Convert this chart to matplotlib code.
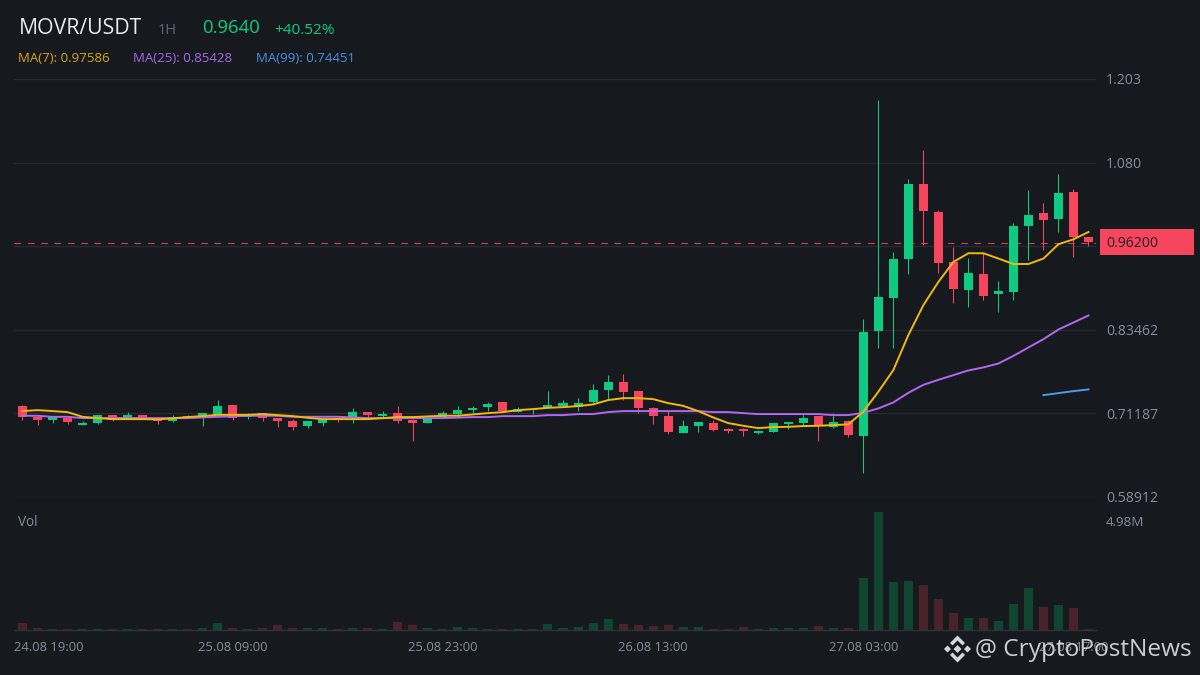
import matplotlib
matplotlib.use("Agg")
import matplotlib.pyplot as plt
from matplotlib.patches import Polygon, Rectangle
from matplotlib.transforms import ScaledTranslation
import numpy as np

plt.rcParams['font.family'] = ['Open Sans', 'DejaVu Sans']

open_ = [.7226,.7069,.7021,.7055,.6947,.6977,.7094,.7050,.7094,.7055,.7006,.7079,.7050,.7094,.7241,.7065,.7123,.7050,.7006,.6933,
         .6977,.7050,.7050,.7138,.7079,.7123,.7021,.6977,.7065,.7109,.7167,.7211,.7285,.7138,.7167,.7197,.7226,.7211,.7285,.7461,
         .7578,.7446,.7197,.7079,.6830,.6933,.6977,.6889,.6889,.6830,.6845,.6962,.6977,.7079,.6918,.7002,.6790,.8331,.8815,.9387,
         1.0483,1.0072,.9338,.8932,.9162,.8869,.8903,.9871,1.0057,.9974,1.0365,.9705]
close = [.7069,.7021,.7060,.6991,.6977,.7094,.7021,.7094,.7050,.7006,.7069,.7065,.7123,.7226,.7055,.7094,.7050,.7006,.6918,.7006,
         .7035,.7031,.7138,.7094,.7109,.7006,.6977,.7050,.7123,.7167,.7197,.7255,.7153,.7182,.7182,.7241,.7270,.7270,.7461,.7578,
         .7431,.7197,.7079,.6845,.6933,.6991,.6874,.6859,.6859,.6859,.6977,.6991,.7050,.6947,.6991,.6805,.8312,.8825,.9382,1.0483,
         1.0091,.9328,.8942,.9177,.8844,.8913,.9867,1.0028,.9959,1.0351,.9710,.9632]
high = [.7241,.7069,.7060,.7055,.7006,.7094,.7094,.7138,.7094,.7055,.7094,.7094,.7123,.7314,.7241,.7123,.7123,.7050,.7035,.7006,
        .7035,.7050,.7197,.7138,.7153,.7226,.7035,.7050,.7153,.7226,.7226,.7285,.7285,.7211,.7182,.7446,.7314,.7343,.7549,.7681,
        .7696,.7446,.7211,.7153,.7021,.6991,.7021,.6903,.6903,.6874,.6977,.6991,.7094,.7079,.7123,.7021,.8512,1.1715,.9495,1.0556,
        1.0981,1.0112,.9559,.9397,.9475,.9060,.9911,1.0395,1.0204,1.0629,1.0409,.9705]
low = [.7021,.6947,.6977,.6962,.6947,.6962,.7006,.7050,.7050,.6962,.6991,.7065,.6933,.7094,.7021,.7035,.7006,.6918,.6874,.6903,
       .6933,.6991,.6977,.7065,.7065,.6977,.6713,.6977,.7065,.7079,.7123,.7153,.7153,.7138,.7109,.7197,.7226,.7153,.7270,.7314,
       .7314,.7123,.6962,.6815,.6830,.6845,.6859,.6830,.6786,.6815,.6845,.6889,.6947,.6713,.6903,.6775,.6247,.8081,.8081,.9167,
       .9588,.9181,.8741,.8683,.8785,.8609,.8785,.9368,.9515,.9783,.9416,.9578]
volume = [.32,.105,.055,.055,.055,.055,.055,.055,.055,.055,.055,.055,.105,.32,.105,.055,.105,.21,.105,.105,
          .105,.055,.105,.105,.055,.366,.21,.105,.055,.16,.105,.055,.055,.055,.046,.274,.091,.137,.32,.50,
          .274,.229,.183,.229,.137,.137,.046,.046,.137,.046,.091,.091,.091,.183,.091,.091,2.38,5.39,2.19,2.24,
          2.06,1.42,.777,.548,.548,.41,1.19,1.92,1.05,1.14,1.005,.06]
ma7 = [.7153,.7167,.7153,.7138,.7069,.7050,.7035,.7035,.7035,.7031,.7046,.7065,.7079,.7098,.7098,.7098,.7109,.7094,.7079,.7054,
       .7035,.7035,.7035,.7035,.7050,.7065,.7065,.7075,.7085,.7085,.7104,.7123,.7138,.7167,.7182,.7201,.7211,.7226,.7251,.7314,
       .7343,.7343,.7329,.7270,.7230,.7153,.7060,.6977,.6937,.6903,.6918,.6922,.6933,.6937,.6947,.6958,.7143,.7436,.7754,.8268,
       .8708,.9049,.9343,.9471,.9471,.9393,.9313,.9313,.9393,.9603,.9676,.9783]
ma25 = [.7084,.7084,.7069,.7069,.7050,.7050,.7050,.7050,.7050,.7050,.7050,.7050,.7060,.7069,.7075,.7084,.7084,.7084,.7069,.7069,
        .7069,.7069,.7060,.7050,.7050,.7050,.7050,.7050,.7050,.7057,.7065,.7065,.7079,.7079,.7079,.7094,.7094,.7109,.7109,.7138,
        .7153,.7153,.7153,.7153,.7153,.7153,.7138,.7138,.7123,.7109,.7109,.7109,.7109,.7109,.7094,.7094,.7128,.7192,.7280,.7421,
        .7538,.7612,.7681,.7750,.7794,.7852,.7964,.8087,.8209,.8351,.8454,.8557]
ma99_index = [68, 69, 70, 71]
ma99 = [.7387, .7417, .7446, .7471]
price_ticks = [.58912, .71187, .83462, .95737, 1.08012, 1.203]
price_labels = ['0.58912', '0.71187', '0.83462', '', '1.080', '1.203']
last_price = 0.962
time_ticks = [0, 14, 28, 42, 56, 70]
time_labels = ['24.08 19:00', '25.08 09:00', '25.08 23:00', '26.08 13:00', '27.08 03:00', '27.08 17:00']
vol_tick = 4.98

BG = '#161a1f'
GRID = '#272a2f'
GREEN = '#0ecb81'
RED = '#f6465d'
VGREEN = '#10452f'
VRED = '#4a2229'
TXT = '#848e9c'

W, H = 1200, 675
fig = plt.figure(figsize=(12, 6.75), dpi=100, facecolor=BG)

def fx(x): return x / W
def fy(y): return 1 - y / H
def box(x0, y0, x1, y1): return [fx(x0), fy(y1), (x1 - x0) / W, (y1 - y0) / H]
def px(s): return s * 72 / 100

idx = np.arange(len(open_))
o, c, h, l, v = map(np.array, (open_, close, high, low, volume))
up = c >= o
cols = np.where(up, GREEN, RED)

# ---- price panel
ax = fig.add_axes(box(14, 79, 1096, 497), facecolor=BG)
xlim = (-0.5661, 71.5)
ax.set_xlim(*xlim)
ax.set_ylim(price_ticks[0], price_ticks[-1])
for s in ax.spines.values():
    s.set_visible(False)
ax.set_axisbelow(True)
ax.yaxis.tick_right()
ax.set_yticks(price_ticks)
ax.set_yticklabels(price_labels, fontsize=px(14), color=TXT)
ax.tick_params(axis='y', length=0, pad=7.2)
ax.set_xticks([])
ax.grid(axis='y', color=GRID, lw=0.9)
wicks = ax.vlines(idx, l, h, colors=cols, lw=0.75, zorder=3)
wicks.set_snap(True)
ax.bar(idx, np.maximum(np.abs(c - o), 0.0012), bottom=np.minimum(o, c), width=0.6, color=cols, zorder=4, lw=0)
ax.axhline(last_price, color=RED, lw=0.8, dashes=(6, 6), alpha=0.85, zorder=2)
ax.plot(idx, ma25, color='#b267f0', lw=1.4, zorder=5, solid_joinstyle='round')
ax.plot(ma99_index, ma99, color='#4a9bf0', lw=1.4, zorder=5)
ax.plot(idx, ma7, color='#f0b90b', lw=1.4, zorder=6, solid_joinstyle='round')

# ---- volume panel
vax = fig.add_axes(box(14, 511, 1096, 630), facecolor=BG)
vax.patch.set_alpha(0)
vax.set_xlim(*xlim)
vax.set_ylim(0, 5.44)
for k, s in vax.spines.items():
    s.set_visible(k == 'bottom')
vax.spines['bottom'].set_color('#2f3238')
vax.spines['bottom'].set_linewidth(1.0)
vax.bar(idx, v, width=0.6, color=np.where(up, VGREEN, VRED), lw=0)
vax.yaxis.tick_right()
vax.set_yticks([vol_tick])
vax.set_yticklabels(['4.98M'], fontsize=px(13.4), color=TXT)
vax.tick_params(axis='y', length=0, pad=7.2)
vax.set_xticks(time_ticks)
vax.set_xticklabels(time_labels, fontsize=px(13), color=TXT)
vax.tick_params(axis='x', length=0, pad=7.8)
first = vax.get_xticklabels()[0]
first.set_transform(first.get_transform() + ScaledTranslation(26.5 / 100, 0, fig.dpi_scale_trans))

# ---- header text
def t(x, y, s, size, color, **kw):
    fig.text(fx(x), fy(y), s, fontsize=px(size), color=color, va='center', ha=kw.pop('ha', 'left'), **kw)

t(18.5, 28, 'MOVR/USDT', 21.3, '#eaecef')
t(158, 30, '1H', 14.5, '#5e6673')
t(202.5, 28, '0.9640', 18.5, GREEN)
t(274, 30, '+40.52%', 15.4, GREEN)
t(18, 58.5, 'MA(7): 0.97586', 13.3, '#d8a50e')
t(133, 58.5, 'MA(25): 0.85428', 13.3, '#a866e6')
t(255.5, 58.5, 'MA(99): 0.74451', 13.3, '#4a8fe0')
t(18, 523, 'Vol', 13.5, TXT)

# ---- last price tag and watermark, on an overlay in pixel units
ov = fig.add_axes([0, 0, 1, 1], facecolor='none')
ov.set_xlim(0, W)
ov.set_ylim(H, 0)
ov.axis('off')
ov.add_patch(Rectangle((1100, 229), 94, 26, color=RED, lw=0))
ov.text(1106, 243.5, '0.96200', fontsize=px(14), color='#1e2026', va='center', ha='left')

LOGO = '#d4d7db'
cx, cy = 957.5, 649
for pts in (
    [(0, -4), (4, 0), (0, 4), (-4, 0)],
    [(-13.5, 0), (-10, -3.5), (-6.5, 0), (-10, 3.5)],
    [(13.5, 0), (10, -3.5), (6.5, 0), (10, 3.5)],
    [(0, -13.5), (7.5, -6), (5, -3.5), (0, -8.5), (-5, -3.5), (-7.5, -6)],
    [(0, 13.5), (7.5, 6), (5, 3.5), (0, 8.5), (-5, 3.5), (-7.5, 6)],
):
    ov.add_patch(Polygon([(cx + a, cy + b) for a, b in pts], closed=True, color=LOGO, lw=0))
ov.text(1192, 649.5, '@ CryptoPostNews', fontsize=px(24.4), color=LOGO, va='center', ha='right', alpha=0.95)

fig.savefig('out.png', dpi=100, facecolor=BG)
